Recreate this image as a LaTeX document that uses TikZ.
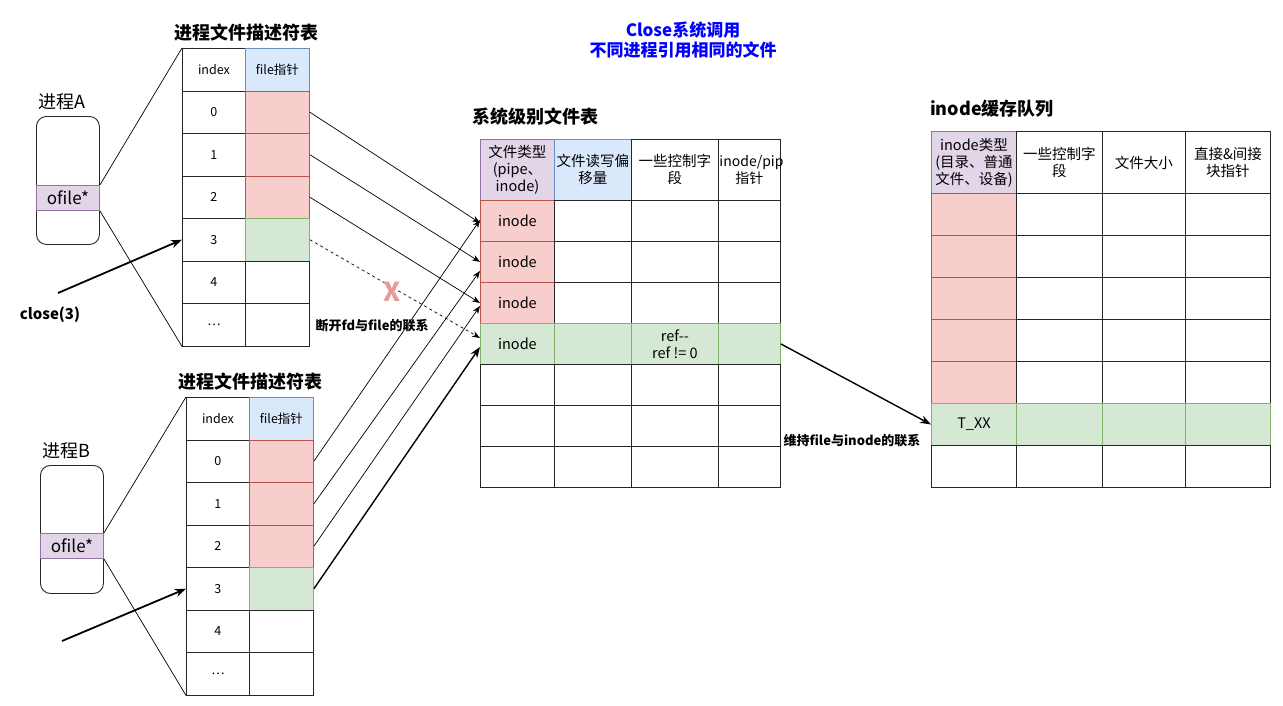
\documentclass[tikz,border=0pt]{standalone}
\usepackage{fontspec}
\setmainfont{Noto Sans CJK SC}
\usepackage{xcolor}
\usetikzlibrary{positioning, arrows.meta, calc}
\definecolor{purplefill}{HTML}{E1D5E7}
\definecolor{purpleline}{HTML}{9673A6}
\definecolor{bluefill}{HTML}{DAE8FC}
\definecolor{blueline}{HTML}{6C8EBF}
\definecolor{redfill}{HTML}{F8CECC}
\definecolor{redline}{HTML}{B85450}
\definecolor{greenfill}{HTML}{D5E8D4}
\definecolor{greenline}{HTML}{82B366}
\definecolor{titleblue}{HTML}{0000FF}
\definecolor{cutred}{HTML}{E89A98}
\tikzset{
  cell/.style={
    rectangle,
    draw=black!85,
    line width=0.9pt,
    anchor=north west,
    inner sep=1pt,
    align=center,
    font=\fontsize{14.5}{17}\selectfont
  },
  fdcell/.style={
    cell,
    minimum height=42.5pt,
    font=\fontsize{12.5}{15}\selectfont
  },
  procbox/.style={
    rectangle,
    draw=black!85,
    rounded corners=10pt,
    line width=0.9pt,
    anchor=north west,
    minimum width=63pt,
    minimum height=128pt
  },
  ofilebox/.style={
    cell,
    fill=purplefill,
    draw=purpleline,
    minimum width=63pt,
    minimum height=25pt,
    font=\fontsize{17}{19}\selectfont
  },
  proclabel/.style={
    font=\fontsize{18}{20}\selectfont,
    inner sep=1pt
  },
  tabletitle/.style={
    font=\fontsize{18}{20}\selectfont\bfseries,
    inner sep=1pt
  },
  maintitle/.style={
    font=\fontsize{17}{20}\selectfont\bfseries,
    text=titleblue,
    align=center,
    inner sep=1pt
  },
  notelabel/.style={
    font=\fontsize{13}{15}\selectfont\bfseries,
    inner sep=1pt
  },
  ptrarrow/.style={
    -{Stealth[length=8pt, width=6pt]},
    line width=0.7pt
  },
  bigarrow/.style={
    -{Stealth[length=11pt, width=8pt]},
    line width=1.8pt
  },
  zoomline/.style={
    line width=0.7pt
  }
}

\begin{document}
\begin{tikzpicture}[x=1pt, y=-1pt]
  \useasboundingbox (0,0) rectangle (1283,705);

  \node[maintitle] (title) at (683,40) {Close系统调用\\不同进程引用相同的文件};

  % process A and its fd table
  \node[procbox] (procA) at (36,116) {};
  \node[ofilebox] (ofileA) at (36,185) {ofile*};
  \node[proclabel, above=5pt of procA, xshift=-6pt] (procA-label) {进程A};
  \node[tabletitle] (tabA-title) at (246,33) {进程文件描述符表};
  \node[fdcell, minimum width=63pt] (tabA-idx-0) at (182,48) {index};
  \node[fdcell, minimum width=64pt, fill=bluefill, draw=blueline] (tabA-ptr-0) at (245,48) {file指针};
  \foreach \lab/\fc/\lc [count=\i] in {0/redfill/redline, 1/redfill/redline, 2/redfill/redline,
      3/greenfill/greenline, 4/white/black!85, \ldots/white/black!85} {
    \node[fdcell, minimum width=63pt] (tabA-idx-\i) at (182,{48+42.5*\i}) {\lab};
    \node[fdcell, minimum width=64pt, fill=\fc, draw=\lc] (tabA-ptr-\i) at (245,{48+42.5*\i}) {};
  }
  \draw[zoomline] (ofileA.north east) -- (tabA-idx-0.north west);
  \draw[zoomline] (ofileA.south east) -- (tabA-idx-6.south west);
  \node[notelabel, font=\fontsize{15}{17}\selectfont\bfseries] (closeA) at (50,315) {close(3)};
  \coordinate (closeA-start) at (58,293);
  \draw[bigarrow] (closeA-start) -- (tabA-idx-4.west);

  % process B and its fd table
  \node[procbox] (procB) at (40,465) {};
  \node[ofilebox] (ofileB) at (40,533) {ofile*};
  \node[proclabel, above=5pt of procB, xshift=-6pt] (procB-label) {进程B};
  \node[tabletitle] (tabB-title) at (250,382) {进程文件描述符表};
  \node[fdcell, minimum width=63pt] (tabB-idx-0) at (186,397) {index};
  \node[fdcell, minimum width=64pt, fill=bluefill, draw=blueline] (tabB-ptr-0) at (249,397) {file指针};
  \foreach \lab/\fc/\lc [count=\i] in {0/redfill/redline, 1/redfill/redline, 2/redfill/redline,
      3/greenfill/greenline, 4/white/black!85, \ldots/white/black!85} {
    \node[fdcell, minimum width=63pt] (tabB-idx-\i) at (186,{397+42.5*\i}) {\lab};
    \node[fdcell, minimum width=64pt, fill=\fc, draw=\lc] (tabB-ptr-\i) at (249,{397+42.5*\i}) {};
  }
  \draw[zoomline] (ofileB.north east) -- (tabB-idx-0.north west);
  \draw[zoomline] (ofileB.south east) -- (tabB-idx-6.south west);
  \coordinate (closeB-start) at (62,641);
  \draw[bigarrow] (closeB-start) -- (tabB-idx-4.west);

  % system file table
  \node[tabletitle, anchor=west] (sys-title) at (471,117) {系统级别文件表};
  \node[cell, minimum width=74pt, minimum height=61pt, fill=purplefill, draw=purpleline] (sys-0-1) at (480,139) {文件类型\\(pipe、\\inode)};
  \node[cell, minimum width=77pt, minimum height=61pt, fill=bluefill, draw=blueline] (sys-0-2) at (554,139) {文件读写偏\\移量};
  \node[cell, minimum width=87pt, minimum height=61pt] (sys-0-3) at (631,139) {一些控制字\\段};
  \node[cell, minimum height=61pt, text width=60pt, font=\fontsize{14}{17}\selectfont] (sys-0-4) at (718,139) {inode/pip\\指针};
  \foreach \r in {1,...,7} {
    \foreach \c/\x/\w in {1/480/74, 2/554/77, 3/631/87, 4/718/62} {
      \def\fc{white}\def\lc{black!85}\def\txt{}
      \ifnum\r=4 \def\fc{greenfill}\def\lc{greenline}\fi
      \ifnum\c=1 \ifnum\r<4 \def\fc{redfill}\def\lc{redline}\fi \ifnum\r<5 \def\txt{inode}\fi\fi
      \ifnum\r=4 \ifnum\c=3 \def\txt{ref-{}-\\ref != 0}\fi\fi
      \node[cell, minimum width=\w pt, minimum height=41pt, fill=\fc, draw=\lc] (sys-\r-\c) at (\x,{200+41*(\r-1)}) {\txt};
    }
  }

  % inode cache queue
  \node[tabletitle, anchor=west] (ino-title) at (929,109) {inode缓存队列};
  \node[cell, minimum width=85pt, minimum height=62pt, fill=purplefill, draw=purpleline] (ino-0-1) at (931,131) {inode类型\\(目录、普通\\文件、设备)};
  \node[cell, minimum width=86pt, minimum height=62pt] (ino-0-2) at (1016,131) {一些控制字\\段};
  \node[cell, minimum width=83pt, minimum height=62pt] (ino-0-3) at (1102,131) {文件大小};
  \node[cell, minimum width=85pt, minimum height=62pt] (ino-0-4) at (1185,131) {直接\&间接\\块指针};
  \foreach \r in {1,...,7} {
    \foreach \c/\x/\w in {1/931/85, 2/1016/86, 3/1102/83, 4/1185/85} {
      \def\fc{white}\def\lc{black!85}\def\txt{}
      \ifnum\r=6 \def\fc{greenfill}\def\lc{greenline}\fi
      \ifnum\c=1 \ifnum\r<6 \def\fc{redfill}\def\lc{redline}\fi \ifnum\r=6 \def\txt{T\_XX}\fi\fi
      \node[cell, minimum width=\w pt, minimum height=42pt, fill=\fc, draw=\lc] (ino-\r-\c) at (\x,{193+42*(\r-1)}) {\txt};
    }
  }

  % file pointers
  \draw[ptrarrow] (tabA-ptr-1.east) -- ([yshift=-2pt]sys-1-1.west);
  \draw[ptrarrow] (tabA-ptr-2.east) -- (sys-2-1.west);
  \draw[ptrarrow] (tabA-ptr-3.east) -- (sys-3-1.west);
  \draw[ptrarrow, dashed] (tabA-ptr-4.east) -- ([yshift=6pt]sys-4-1.west);
  \draw[ptrarrow] (tabB-ptr-1.east) -- ([yshift=1pt]sys-1-1.west);
  \draw[ptrarrow] (tabB-ptr-2.east) -- ([yshift=-9pt]sys-2-1.west);
  \draw[ptrarrow] (tabB-ptr-3.east) -- ([yshift=-3pt]sys-3-1.west);
  \draw[bigarrow, line width=1.4pt] (tabB-ptr-4.east) -- ([yshift=-3pt]sys-4-1.west);
  \node[font=\fontsize{26}{26}\selectfont\bfseries, text=cutred, inner sep=0pt] (cutmark) at (392,292) {X};
  \node[notelabel] (cutlabel) at (372,326) {断开fd与file的联系};

  \draw[bigarrow, line width=1.4pt] (sys-4-4.east) -- (ino-6-1.west);
  \node[notelabel] (keeplabel) at (852,441) {维持file与inode的联系};
\end{tikzpicture}
\end{document}
